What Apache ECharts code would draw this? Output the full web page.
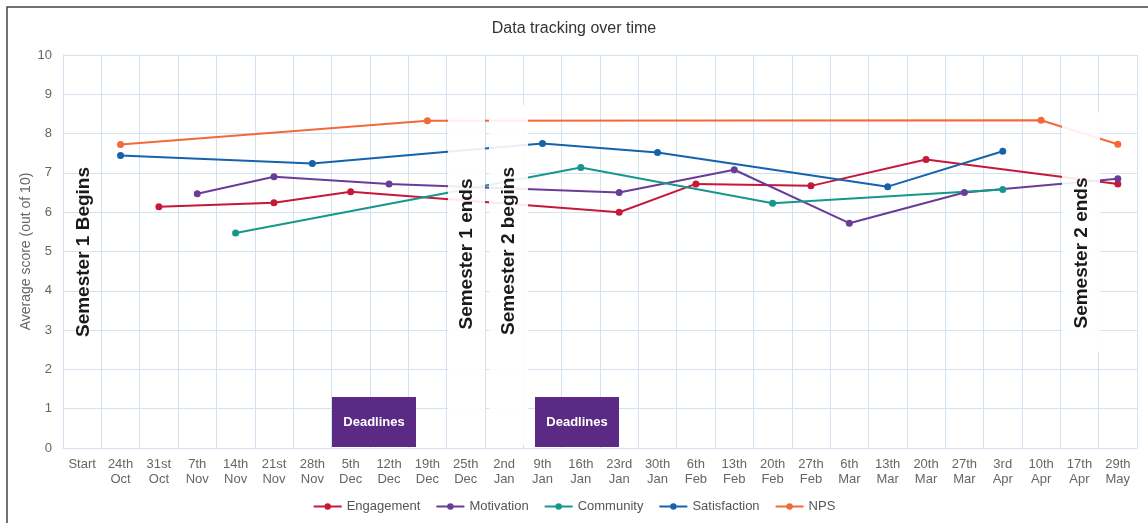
<!DOCTYPE html>
<html>
<head>
<meta charset="utf-8">
<script src="https://cdn.jsdelivr.net/npm/echarts@6/dist/echarts.min.js"></script>
<style>
html,body{margin:0;padding:0;background:#fff;}
#main{width:1148px;height:523px;}
</style>
</head>
<body>
<div id="main"></div>
<script>
var categories = ['Start','24th\nOct','31st\nOct','7th\nNov','14th\nNov','21st\nNov','28th\nNov','5th\nDec','12th\nDec','19th\nDec','25th\nDec','2nd\nJan','9th\nJan','16th\nJan','23rd\nJan','30th\nJan','6th\nFeb','13th\nFeb','20th\nFeb','27th\nFeb','6th\nMar','13th\nMar','20th\nMar','27th\nMar','3rd\nApr','10th\nApr','17th\nApr','29th\nMay'];

var engagement   = [null,null,6.14,null,null,6.24,null,6.52,null,null,null,null,null,null,6.00,null,6.72,null,null,6.67,null,null,7.34,null,null,null,null,6.72];
var motivation   = [null,null,null,6.47,null,6.90,null,null,6.72,null,null,null,null,null,6.50,null,null,7.08,null,null,5.72,null,null,6.50,null,null,null,6.85];
var community    = [null,null,null,null,5.47,null,null,null,null,null,null,null,null,7.14,null,null,null,null,6.23,null,null,null,null,null,6.58,null,null,null];
var satisfaction = [null,7.44,null,null,null,null,7.24,null,null,null,null,null,7.75,null,null,7.52,null,null,null,null,null,6.65,null,null,7.55,null,null,null];
var nps          = [null,7.72,null,null,null,null,null,null,null,8.33,null,null,null,null,null,null,null,null,null,null,null,null,null,null,null,8.34,null,7.73];

var seriesNames  = ['Engagement','Motivation','Community','Satisfaction','NPS'];
var seriesColors = ['#c8183a','#6a3c98','#16978c','#1562ad','#f2693a'];
var yTicks = [0,1,2,3,4,5,6,7,8,9,10];

var gridColor = '#d2e2f0';
var chart = echarts.init(document.getElementById('main'));
var allData = [engagement, motivation, community, satisfaction, nps];

var series = allData.map(function(d, i){
  return {
    name: seriesNames[i], type: 'line', data: d, connectNulls: true,
    symbol: 'circle', symbolSize: 7, color: seriesColors[i],
    lineStyle: {width: 2, color: seriesColors[i]},
    itemStyle: {color: seriesColors[i]},
    z: 3
  };
});

var font = 'Liberation Sans, Arial, sans-serif';

function vText(x, y, txt){
  return {type:'text', x:x, y:y, rotation: Math.PI/2, z: 200,
    style:{text: txt, font:'bold 19px ' + font, fill:'#1a1a1a', align:'center', verticalAlign:'middle'}};
}
function whiteBox(x, y, w, h){
  return {type:'rect', z: 150, shape:{x:x, y:y, width:w, height:h}, style:{fill:'rgba(255,255,255,0.9)'}};
}
function deadlineBox(x){
  return {type:'rect', z: 160, shape:{x:x, y:397, width:84, height:50}, style:{fill:'#5a2a84'}};
}
function deadlineText(x){
  return {type:'text', z: 170, x: x+42, y: 422, style:{text:'Deadlines', font:'bold 13px ' + font, fill:'#fff', align:'center', verticalAlign:'middle'}};
}

chart.setOption({
  animation: false,
  textStyle: {fontFamily: font},
  title: {text: 'Data tracking over time', left: 'center', top: 16,
    textStyle: {fontSize: 16, fontWeight: 'normal', color: '#333', fontFamily: font}},
  legend: {data: seriesNames, left: 'center', top: 495, itemWidth: 28, itemHeight: 8, itemGap: 15,
    textStyle: {fontSize: 13, color: '#555', fontFamily: font}},
  grid: {left: 63, right: 11, top: 55, bottom: 75, containLabel: false},
  xAxis: {type: 'category', data: categories, boundaryGap: true,
    axisLine: {show: true, lineStyle: {color: gridColor}},
    axisTick: {show: false},
    splitLine: {show: true, interval: 0, lineStyle: {color: gridColor, width: 1}},
    axisLabel: {interval: 0, color: '#666', fontSize: 13, lineHeight: 15, margin: 9, fontFamily: font}},
  yAxis: {type: 'value', min: yTicks[0], max: yTicks[yTicks.length-1], interval: 1,
    name: 'Average score (out of 10)', nameLocation: 'middle', nameGap: 30, nameMoveOverlap: false,
    nameTextStyle: {fontSize: 14, color: '#666', fontFamily: font},
    axisLine: {show: true, lineStyle: {color: gridColor}},
    axisTick: {show: false},
    splitLine: {show: true, lineStyle: {color: gridColor, width: 1}},
    axisLabel: {color: '#666', fontSize: 13, margin: 11, fontFamily: font}},
  series: series,
  graphic: [
    {type:'rect', z: 0, shape:{x:7, y:7, width:1160, height:540}, style:{fill:'none', stroke:'#444', lineWidth:1.5}},
    whiteBox(448, 105, 37, 340),
    whiteBox(489, 105, 39, 340),
    whiteBox(1062, 112, 38, 240),
    vText(84, 252, 'Semester 1 Begins'),
    vText(467, 254, 'Semester 1 ends'),
    vText(509, 251, 'Semester 2 begins'),
    vText(1082, 253, 'Semester 2 ends'),
    deadlineBox(332), deadlineText(332),
    deadlineBox(535), deadlineText(535)
  ]
});
</script>
</body>
</html>
